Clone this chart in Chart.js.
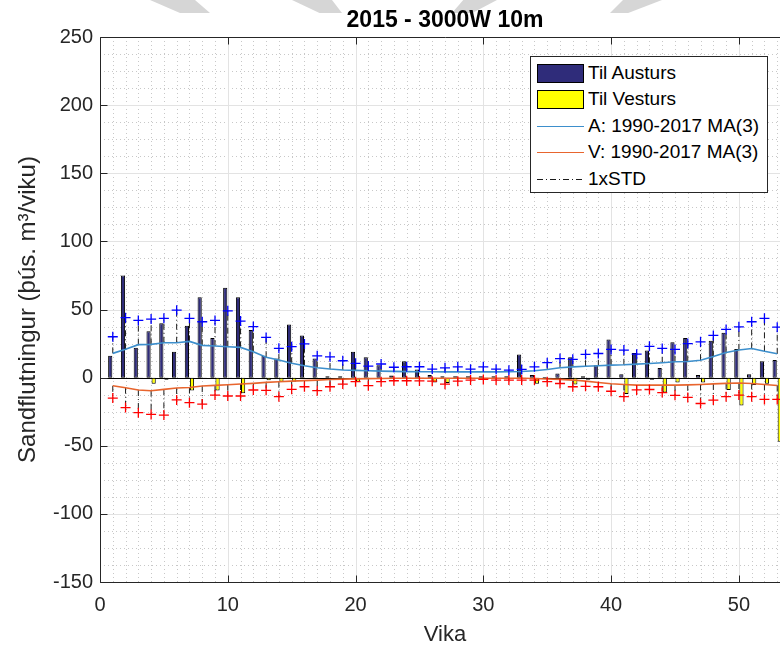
<!DOCTYPE html>
<html>
<head>
<meta charset="utf-8">
<script src="https://cdn.jsdelivr.net/npm/chart.js@4.4.1/dist/chart.umd.min.js"></script>
<style>
  html, body { margin: 0; padding: 0; background: #fff; }
  #wrap { position: relative; width: 780px; height: 647px; overflow: hidden; font-family: "Liberation Sans", Arial, sans-serif; }
  #c { position: absolute; left: 0; top: 0; z-index: 1; }
  .wm { position: absolute; top: 0; height: 13px; background: #d6d6d6; z-index: 0; }
  #title { position: absolute; z-index: 2; left: 245px; width: 400px; top: 5px; text-align: center; font-size: 23px; line-height: 28px; font-weight: bold; color: #000; white-space: nowrap; }
  #legend { position: absolute; z-index: 2; left: 530px; top: 56px; width: 238px; height: 137px; background: #fff; border: 1px solid #262626; box-sizing: border-box; }
  .li { position: absolute; left: 6px; height: 20px; width: 230px; }
  .sw { position: absolute; left: 0; top: 0; width: 47px; height: 19px; box-sizing: border-box; border: 1px solid #000; }
  .ln { position: absolute; left: 0; top: 9px; width: 47px; height: 0; }
  .lt { position: absolute; left: 51px; top: -2px; font-size: 19px; line-height: 22px; color: #000; white-space: nowrap; }
</style>
</head>
<body>
<div id="wrap">
  <div class="wm" style="left:150px;width:60px;clip-path:polygon(0 0,75% 0,100% 100%,50% 100%);"></div>
  <div class="wm" style="left:292px;width:50px;clip-path:polygon(0 0,80% 0,100% 100%,55% 100%);"></div>
  <div class="wm" style="left:452px;width:45px;clip-path:polygon(25% 0,100% 0,45% 100%,0 100%);"></div>
  <div class="wm" style="left:610px;width:52px;clip-path:polygon(25% 0,100% 0,35% 100%,0 100%);"></div>
  <canvas id="c" width="890" height="647"></canvas>
  <div id="title">2015 - 3000W 10m</div>
  <div id="legend"></div>
</div>
<script>
// ---------------- data ----------------
const weeks = [1,2,3,4,5,6,7,8,9,10,11,12,13,14,15,16,17,18,19,20,21,22,23,24,25,26,27,28,29,30,31,32,33,34,35,36,37,38,39,40,41,42,43,44,45,46,47,48,49,50,51,52,53];
const austur = [16,75,22,34,40,19,38,59,29,66,59,35,16,14,39,31,14,1,1,19,15,9,1.5,12,6,2,1,1,1,1,1,1,17,2,0.5,3,15,1,9,28,2.5,18,20,7,26,29,2,27,33,21,2.5,12,13];
const vestur = [0,-1,-1,-4.5,-1.5,0,-9.5,-0.5,-9.5,-1,-11.5,0,-2,-3,-3,0,0,0,0,-3,0,0,0,-0.5,-1,-3.5,-4,-1,-1,-0.5,-0.5,0,-0.5,-4.5,-1,0,-5,-1.5,-1,-1,-12,-1,-1.5,-11,-3.5,0,-3.5,0,-9,-20.5,-5.5,-4.5,-47];
const maA = [17.8,20.8,24.2,24.4,25.6,25.6,26.6,23.7,23.2,22.7,22.2,19,15,12.9,10.5,8.7,7.3,6.3,5.6,5.3,5,4.8,4.6,4.4,4.3,4.3,4.2,4.2,4.2,4.2,4.2,4.3,4.5,5,6,7.2,7.9,8.4,8.7,9.2,9.4,9.9,10.4,10.9,11.6,11.8,12.8,15.5,18.5,20.3,21.4,19.3,17.5];
const maV = [-6,-7.4,-9.1,-9.6,-8.6,-7.6,-7.2,-6.2,-5.7,-5.2,-4.7,-4.2,-3.5,-3,-2.6,-2.2,-1.8,-1.4,-1.1,-0.9,-0.7,-0.6,-0.5,-0.5,-0.5,-0.5,-0.5,-0.5,-0.5,-0.5,-0.5,-0.5,-0.5,-0.6,-1,-1.3,-1.8,-2.6,-3.6,-4.5,-5,-5.5,-5.5,-5.5,-5.5,-5.3,-5,-4.6,-4.2,-4,-4.3,-5,-5.8];
const stdA = [30,44,42,43,43.5,49.5,43.5,41,42,49,41.5,37.5,29.5,21.5,22.7,24.7,16,15.3,12.4,10.5,8.5,10,7.6,8,8,6.3,7.2,7.9,6.2,7.9,6.2,5.5,6,7.9,11,14,13.4,17,17.7,20.7,20.2,17.2,23,21.4,20.7,25,26.3,31,35.4,37.3,41,43.5,37];
const stdV = [-15,-22,-25.7,-27,-27.5,-16.4,-18.4,-19.4,-12.8,-13.5,-13.5,-9.1,-9.3,-14,-8.6,-6.7,-9.6,-6.7,-4.7,-3,-5.9,-3,-2.3,-2.3,-2.4,-2.6,-4.8,-2.6,-1.8,-1.3,-1.8,-1.8,-1.8,-1.8,-3,-4.3,-6.7,-6.4,-6.7,-10,-14,-9,-8.7,-11,-13,-14.5,-19,-16.5,-14,-12.8,-14,-16,-16];
const xTicks = [0,10,20,30,40,50];
const yTicks = [-150,-100,-50,0,50,100,150,200,250];
const labels = ['Til Austurs','Til Vesturs','A: 1990-2017 MA(3)','V: 1990-2017 MA(3)','1xSTD'];

// ---------------- styles ----------------
const FONT = '"Liberation Sans", Arial, sans-serif';
const AX = '#262626';
const C_A = '#2f2c7a', C_V = '#ffff00', C_LA = '#3d8fcc', C_LV = '#e8652e';
const STD_DASH = [6,3,1,3];

const pts = arr => weeks.map((w,i) => ({x:w, y:arr[i]}));
const stdSegs = [];
weeks.forEach((w,i) => {
  stdSegs.push({x:w,y:maA[i]},{x:w,y:stdA[i]},{x:w,y:null});
  stdSegs.push({x:w,y:maV[i]},{x:w,y:stdV[i]},{x:w,y:null});
});

const axesPlugin = {
  id: 'matlabAxes',
  beforeDatasetsDraw(chart) {
    const {ctx, chartArea:a, scales:{x,y}} = chart;
    ctx.save();
    ctx.lineWidth = 1;
    ctx.strokeStyle = '#c8c8c8';
    ctx.setLineDash([1,3]);
    for (let v = 1; v <= 53; v++) {
      if (v % 10 === 0) continue;
      const px = Math.round(x.getPixelForValue(v)) + 0.5;
      ctx.beginPath(); ctx.moveTo(px, a.top); ctx.lineTo(px, a.bottom); ctx.stroke();
    }
    for (let v = -150; v <= 250; v += 12.5) {
      if (v % 50 === 0) continue;
      const py = Math.round(y.getPixelForValue(v)) + 0.5;
      ctx.beginPath(); ctx.moveTo(a.left, py); ctx.lineTo(a.right, py); ctx.stroke();
    }
    ctx.setLineDash([]);
    ctx.strokeStyle = '#e3e3e3';
    xTicks.forEach(v => {
      const px = Math.round(x.getPixelForValue(v)) + 0.5;
      ctx.beginPath(); ctx.moveTo(px, a.top); ctx.lineTo(px, a.bottom); ctx.stroke();
    });
    yTicks.forEach(v => {
      const py = Math.round(y.getPixelForValue(v)) + 0.5;
      ctx.beginPath(); ctx.moveTo(a.left, py); ctx.lineTo(a.right, py); ctx.stroke();
    });
    ctx.strokeStyle = '#000';
    const p0 = Math.round(y.getPixelForValue(0)) + 0.5;
    ctx.beginPath(); ctx.moveTo(a.left, p0); ctx.lineTo(a.right, p0); ctx.stroke();
    ctx.restore();
  },
  afterDatasetsDraw(chart) {
    const {ctx, chartArea:a, scales:{x,y}} = chart;
    ctx.save();
    ctx.strokeStyle = AX;
    ctx.lineWidth = 1;
    const L = Math.round(a.left) + 0.5, B = Math.round(a.bottom) + 0.5, T = Math.round(a.top) + 0.5, R = Math.round(a.right) + 0.5;
    ctx.beginPath();
    ctx.moveTo(R, T); ctx.lineTo(L, T); ctx.lineTo(L, B); ctx.lineTo(R, B); ctx.lineTo(R, T);
    ctx.stroke();
    xTicks.forEach(v => {
      const px = Math.round(x.getPixelForValue(v)) + 0.5;
      ctx.beginPath(); ctx.moveTo(px, B); ctx.lineTo(px, B - 7); ctx.moveTo(px, T); ctx.lineTo(px, T + 7); ctx.stroke();
    });
    yTicks.forEach(v => {
      const py = Math.round(y.getPixelForValue(v)) + 0.5;
      ctx.beginPath(); ctx.moveTo(L, py); ctx.lineTo(L + 7, py); ctx.stroke();
    });
    ctx.restore();
  }
};

new Chart(document.getElementById('c'), {
  data: {
    datasets: [
      { type:'bar', label: labels[0], data: pts(austur), backgroundColor: C_A, borderColor:'#000', borderWidth:1, borderSkipped:false, categoryPercentage:0.8, barPercentage:0.82, order:10 },
      { type:'bar', label: labels[1], data: pts(vestur), backgroundColor: C_V, borderColor:'#000', borderWidth:1, borderSkipped:false, categoryPercentage:0.8, barPercentage:0.82, order:10 },
      { type:'line', label: labels[4], data: stdSegs, borderColor:'#1a1a1a', borderWidth:1, borderDash: STD_DASH, pointRadius:0, spanGaps:false, order:5 },
      { type:'line', label: labels[2], data: pts(maA), borderColor: C_LA, borderWidth:1.6, pointRadius:0, tension:0, order:3 },
      { type:'line', label: labels[3], data: pts(maV), borderColor: C_LV, borderWidth:1.6, pointRadius:0, tension:0, order:3 },
      { type:'scatter', label:'A std', data: pts(stdA), pointStyle:'cross', pointRadius:5, borderColor:'#0000ff', borderWidth:1.3, showLine:false, order:1 },
      { type:'scatter', label:'V std', data: pts(stdV), pointStyle:'cross', pointRadius:5, borderColor:'#ff0000', borderWidth:1.3, showLine:false, order:1 }
    ]
  },
  options: {
    responsive: false,
    animation: false,
    devicePixelRatio: 1,
    layout: { padding: { left: 0, top: 37, bottom: 0, right: 100 } },
    plugins: {
      legend: { display: false },
      tooltip: { enabled: false },
      title: { display: false }
    },
    scales: {
      x: {
        type: 'linear', min: 0, max: 54, offset: false,
        grid: { display: false, drawTicks: false },
        border: { display: false },
        ticks: { stepSize: 10, includeBounds: false, padding: 11, color: AX, font: { family: FONT, size: 20 } },
        title: { display: true, text: 'Vika', color: AX, font: { family: FONT, size: 22, lineHeight: 1 }, padding: { top: 0, bottom: 1 } },
        afterFit(s) { s.height = 65; }
      },
      y: {
        type: 'linear', min: -150, max: 250,
        grid: { display: false, drawTicks: false },
        border: { display: false },
        ticks: { stepSize: 50, padding: 7, color: AX, font: { family: FONT, size: 20 } },
        title: { display: true, text: 'Sandflutningur (þús. m³/viku)', color: AX, font: { family: FONT, size: 24 }, padding: { top: 14, bottom: 0 } },
        afterFit(s) { s.width = 100; }
      }
    }
  },
  plugins: [axesPlugin]
});

// ---------------- legend overlay ----------------
const legendDefs = [
  { kind:'sw', color:C_A }, { kind:'sw', color:C_V },
  { kind:'ln', color:C_LA }, { kind:'ln', color:C_LV },
  { kind:'dash', color:'#1a1a1a' }
];
const leg = document.getElementById('legend');
legendDefs.forEach((d,i) => {
  const row = document.createElement('div');
  row.className = 'li';
  row.style.top = (7 + i*26.4) + 'px';
  let mark;
  if (d.kind === 'sw') {
    mark = '<div class="sw" style="background:'+d.color+'"></div>';
  } else if (d.kind === 'ln') {
    mark = '<div class="ln" style="border-top:1.5px solid '+d.color+'"></div>';
  } else {
    mark = '<svg class="ln" width="47" height="3" style="top:8px;height:3px;overflow:visible"><line x1="0" y1="1.5" x2="47" y2="1.5" stroke="'+d.color+'" stroke-width="1" stroke-dasharray="'+STD_DASH.join(',')+'"/></svg>';
  }
  row.innerHTML = mark + '<div class="lt">' + labels[i] + '</div>';
  leg.appendChild(row);
});
</script>
</body>
</html>
